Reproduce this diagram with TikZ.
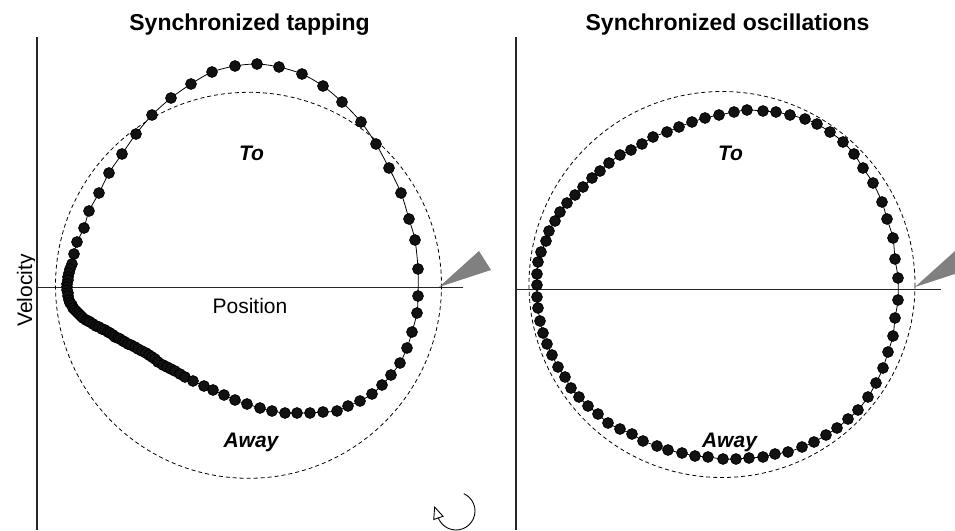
\documentclass[tikz,border=0pt]{standalone}
\usepackage{fontspec}
\setmainfont{Liberation Sans}
\usetikzlibrary{arrows.meta}
\begin{document}
\begin{tikzpicture}[x=1pt,y=-1pt,
  axisline/.style={line width=1.1pt, black!85},
  refcirc/.style={line width=0.8pt, black, dash pattern=on 4pt off 3pt},
  traj/.style={line width=0.8pt, black, smooth cycle, mark=*, mark size=5.4pt, mark options={fill=black!93, draw=none}},
  titletext/.style={font=\bfseries\fontsize{23}{27}\selectfont, inner sep=0pt, anchor=base},
  labeltext/.style={font=\fontsize{21}{25}\selectfont, inner sep=0pt, anchor=base},
  phasetext/.style={font=\bfseries\itshape\fontsize{21}{25}\selectfont, inner sep=0pt, anchor=base},
  pointer/.style={fill=black!50, draw=none}
]
\useasboundingbox (0,0) rectangle (955,530);
\begin{scope}
\clip (0,0) rectangle (955,530);

% ---------- left panel ----------
\node[titletext] (titleL) at (249.5,30.5) {Synchronized tapping};
\draw[axisline] (37,37) -- (37,530);
\draw[axisline] (37,287.3) -- (463,287.3);
\begin{scope}
\clip (0,0) rectangle (34,530);
\node[labeltext, rotate=90] (vel) at (32,290.5) {Velocity};
\end{scope}
\node[labeltext] (pos) at (250,313) {Position};
\draw[refcirc] (248.5,285.3) circle[radius=193];
\fill[pointer] (439,287) -- (479,251) -- (491,270) -- cycle;
\draw[traj] plot coordinates {
(418,269) (415,240) (409,219) (401,193) (389,168) (376,144) (361,122) (342,102) (323,86) (302,74) (279,67) (257,64) (235,66) (212,72) (191,84) (171,98) (152,115) (136,134) (122,154) (109,173) (99,193) (89,211) (84,228) (77,242) (74,254) (72,264) (70,269) (69,273) (68,277) (68,280) (67,284) (67,287) (67,290) (68,293) (68,296) (69,300) (70,303) (72,305) (73,308) (75,310) (77,312) (79,314) (81,316) (83,318) (86,320) (88,321) (90,322) (93,324) (96,326) (99,327) (102,329) (105,330) (108,332) (110,333) (113,335) (115,337) (118,338) (120,339) (123,341) (125,342) (128,344) (131,345) (135,347) (138,349) (142,351) (146,353) (149,355) (152,357) (155,359) (158,362) (163,365) (167,367) (171,369) (175,371) (180,374) (185,377) (193,381) (204,386) (213,390) (224,395) (235,400) (247,404) (260,408) (272,411) (285,413) (297,413) (310,413) (323,412) (337,411) (348,406) (360,401) (372,394) (382,385) (391,375) (400,363) (407,348) (412,332) (417,313) (418,296)};
\node[phasetext] (toL) at (251.5,160) {To};
\node[phasetext] (awayL) at (251,447) {Away};
\coordinate (rotc) at (456,511);
\draw[line width=0.9pt, -{Triangle[open, length=13pt, width=11pt]}]
  (rotc) ++(-66:19) arc[start angle=-66, end angle=155, radius=19] -- ++(-4.5,-13);

% ---------- right panel ----------
\node[titletext] (titleR) at (727.5,30.5) {Synchronized oscillations};
\draw[axisline] (516,37) -- (516,530);
\draw[axisline] (516,289.5) -- (941,289.5);
\draw[refcirc] (722,284.5) circle[radius=193];
\fill[pointer] (915,287) -- (955,251) -- (967,270) -- cycle;
\draw[traj] plot coordinates {
(538,262) (541,252) (546,241) (549,231) (555,221) (560,212) (567,203) (575,195) (583,187) (592,178) (600,171) (609,163) (620,155) (631,150) (642,144) (653,137) (667,132) (679,127) (692,122) (705,118) (719,115) (734,112) (747,110) (763,111) (776,112) (790,115) (805,119) (817,124) (830,132) (843,142) (854,154) (863,168) (873,183) (882,202) (887,219) (893,238) (895,259) (898,278) (898,300) (895,318) (893,336) (888,352) (883,368) (876,383) (868,397) (858,410) (848,419) (837,428) (826,435) (814,442) (802,447) (788,452) (775,454) (763,457) (749,458) (736,459) (723,459) (708,457) (695,456) (682,453) (668,450) (657,446) (643,441) (632,434) (620,429) (608,423) (598,414) (588,406) (579,397) (571,388) (565,377) (558,367) (552,355) (547,344) (543,333) (540,321) (538,308) (537,297) (537,285) (537,274)};
\node[phasetext] (toR) at (730.5,160) {To};
\node[phasetext] (awayR) at (729.5,447) {Away};
\end{scope}
\end{tikzpicture}
\end{document}
